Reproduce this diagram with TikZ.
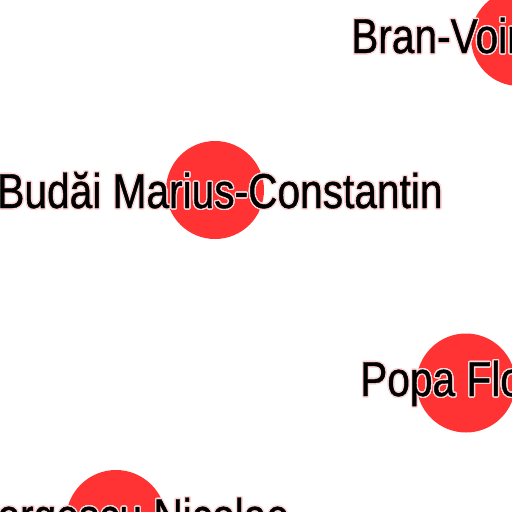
\documentclass[tikz,border=0pt]{standalone}
\usepackage{fontspec}
\setmainfont{Liberation Sans}[FakeStretch=0.83,FakeBold=0.8]
\usepackage{contour}
\contourlength{1.3pt}
\contournumber{24}
\definecolor{dotred}{RGB}{255,51,51}
\definecolor{halo}{RGB}{255,215,215}
\tikzset{
  reddot/.style={circle, fill=dotred, draw=none, minimum size=#1, inner sep=0pt},
  persontext/.style={inner sep=0pt, text=black, font=\fontsize{49}{49}\selectfont}
}
\begin{document}
\begin{tikzpicture}[x=1pt,y=-1pt]
\useasboundingbox (0,0) rectangle (512,512);
\clip (0,0) rectangle (512,512);
\fill[white] (0,0) rectangle (512,512);
\node[reddot=96pt] (c1) at (519,38) {};
\node[reddot=98pt] (c2) at (215,190) {};
\node[reddot=99pt] (c3) at (466,383) {};
\node[reddot=100pt] (c4) at (116,520) {};
\node[persontext, anchor=base west] (t1) at (351,53) {\contour{halo}{Bran-Voinescu}};
\node[persontext, anchor=base] (t2) at (220,208) {\contour{halo}{Budăi Marius-Constantin}};
\node[persontext, anchor=base west] (t3) at (360,396) {\contour{halo}{Popa Florin}};
\node[persontext, anchor=base west] (t4) at (-57,533) {\contour{halo}{Georgescu Nicolae}};
\end{tikzpicture}
\end{document}
